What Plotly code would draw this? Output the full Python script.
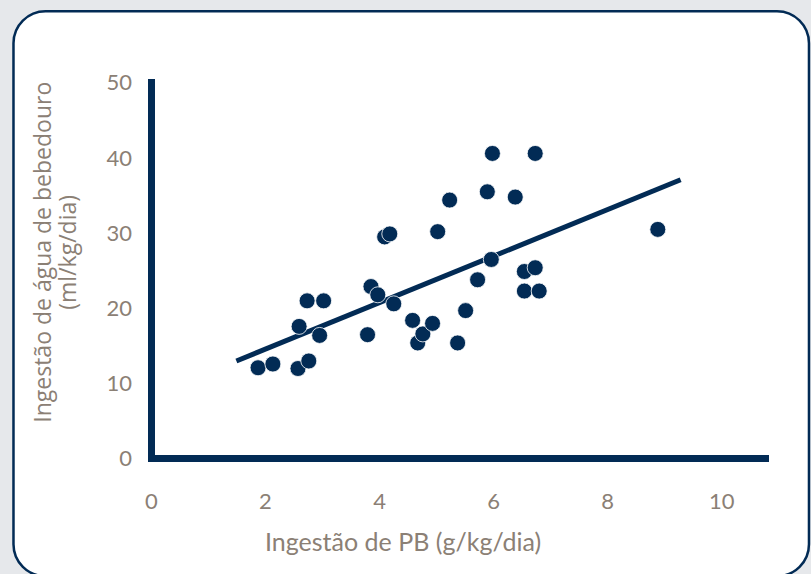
import plotly.graph_objects as go

# ---- data ----
pb_intake = [1.87, 2.13, 2.57, 2.76, 2.59, 2.73, 3.02, 2.95, 3.79, 3.85, 3.97,
             4.25, 4.09, 4.18, 4.58, 4.67, 4.76, 4.93, 5.02, 5.23, 5.37, 5.51,
             5.72, 5.89, 5.98, 5.96, 6.38, 6.54, 6.54, 6.73, 6.73, 6.80, 8.88]
water_intake = [12.1, 12.6, 12.0, 13.0, 17.6, 21.0, 21.0, 16.4, 16.5, 22.9, 21.8,
                20.6, 29.5, 29.9, 18.4, 15.4, 16.6, 18.0, 30.2, 34.4, 15.4, 19.7,
                23.8, 35.5, 40.6, 26.5, 34.8, 24.9, 22.3, 40.6, 25.4, 22.3, 30.5]
trend_x = [1.49, 9.28]
trend_y = [13.0, 37.1]
x_ticks = [0, 2, 4, 6, 8, 10]
y_ticks = [0, 10, 20, 30, 40, 50]
x_title = "Ingestão de PB (g/kg/dia)"
y_title_lines = ["Ingestão de água de bebedouro", "(ml/kg/dia)"]

NAVY = "#022b55"
TEXT = "#8b8075"
W, H = 811, 574

# plot area geometry (pixels)
L, R, T, B = 147.6, 769.0, 78.7, 460.8
PW, PH = R - L, B - T


def px(x):
    return (x - L) / PW


def py(y):
    return (B - y) / PH


def rounded_rect(x0, y0, x1, y1, r):
    k = 0.5523 * r
    pts = []
    pts.append(f"M {px(x0 + r)},{py(y0)}")
    pts.append(f"L {px(x1 - r)},{py(y0)}")
    pts.append(f"C {px(x1 - r + k)},{py(y0)} {px(x1)},{py(y0 + r - k)} {px(x1)},{py(y0 + r)}")
    pts.append(f"L {px(x1)},{py(y1 - r)}")
    pts.append(f"C {px(x1)},{py(y1 - r + k)} {px(x1 - r + k)},{py(y1)} {px(x1 - r)},{py(y1)}")
    pts.append(f"L {px(x0 + r)},{py(y1)}")
    pts.append(f"C {px(x0 + r - k)},{py(y1)} {px(x0)},{py(y1 - r + k)} {px(x0)},{py(y1 - r)}")
    pts.append(f"L {px(x0)},{py(y0 + r)}")
    pts.append(f"C {px(x0)},{py(y0 + r - k)} {px(x0 + r - k)},{py(y0)} {px(x0 + r)},{py(y0)}")
    pts.append("Z")
    return " ".join(pts)


fig = go.Figure()
fig.add_trace(go.Scatter(x=trend_x, y=trend_y, mode="lines",
                         line=dict(color=NAVY, width=5), hoverinfo="skip",
                         showlegend=False))
fig.add_trace(go.Scatter(x=pb_intake, y=water_intake, mode="markers",
                         marker=dict(color=NAVY, size=16,
                                     line=dict(color="white", width=0.8)),
                         showlegend=False))

fig.add_shape(type="path", xref="paper", yref="paper",
              path=rounded_rect(13, 11, 809, 576, 32),
              fillcolor="white", line=dict(color=NAVY, width=2.5), layer="below")

annotations = [
    dict(text=x_title, xref="paper", yref="paper", x=px(403), y=py(541),
         showarrow=False, xanchor="center", yanchor="middle",
         font=dict(family="Lato", size=25, color=TEXT)),
]
for i, (line_text, xc) in enumerate(zip(y_title_lines, [42, 67])):
    annotations.append(
        dict(text=line_text, xref="paper", yref="paper", x=px(xc), y=py(252),
             showarrow=False, xanchor="center", yanchor="middle", textangle=-90,
             font=dict(family="Open Sans", size=23, color=TEXT)))

fig.update_layout(
    width=W, height=H,
    margin=dict(l=L, r=W - R, t=T, b=H - B, pad=0),
    paper_bgcolor="#e6e8eb",
    plot_bgcolor="rgba(0,0,0,0)",
    xaxis=dict(range=[-0.06, 10.83], tickvals=x_ticks, showgrid=False,
               showline=False, zeroline=True, zerolinecolor=NAVY,
               zerolinewidth=7, ticks="", ticklabelstandoff=25,
               tickfont=dict(family="Lato", size=22, color=TEXT)),
    yaxis=dict(range=[-0.3, 50.5], tickvals=y_ticks, showgrid=False,
               showline=False, zeroline=True, zerolinecolor=NAVY,
               zerolinewidth=7, ticks="", ticklabelstandoff=15,
               tickfont=dict(family="Lato", size=22, color=TEXT)),
    annotations=annotations,
)

fig.write_html("out.html")
